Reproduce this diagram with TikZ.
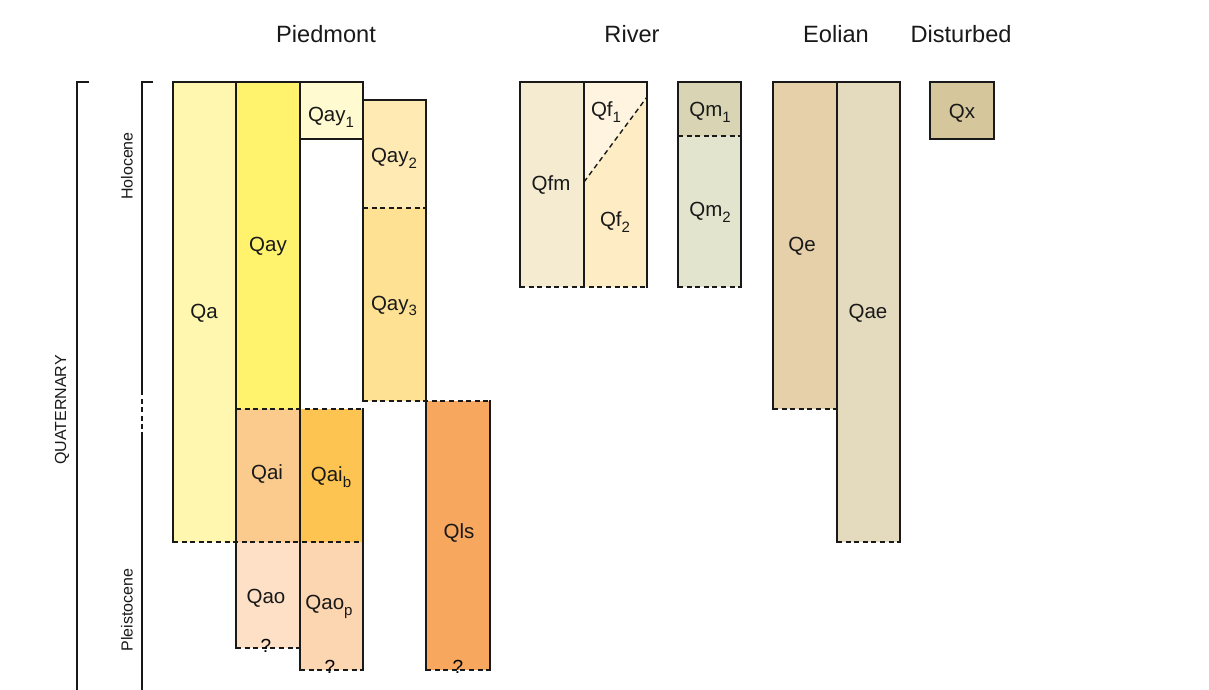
\documentclass[tikz,border=0pt]{standalone}
\usepackage{fontspec}
\setmainfont{Liberation Sans}
% subscript for unit symbols
\newcommand{\usub}[1]{\raisebox{-0.28em}{\fontsize{15}{17}\selectfont #1}}
\begin{document}
\begin{tikzpicture}[x=1pt,y=-1pt,
  edge/.style={line width=1.4pt,draw=black!90,line cap=rect},
  contact/.style={line width=1.4pt,draw=black!90,dash pattern=on 5pt off 3.6pt},
  unit/.style={font=\fontsize{20.5}{24}\selectfont,inner sep=0pt,text=black!90},
  head/.style={font=\fontsize{23.6}{27}\selectfont,inner sep=0pt,text=black!90},
  era/.style={font=\fontsize{16}{19}\selectfont,inner sep=0pt,rotate=90,text=black!90},
  qmark/.style={font=\fontsize{19}{22}\selectfont,inner sep=0pt,fill=none}]
\useasboundingbox (0,0) rectangle (1209,690);

% unit colours
\definecolor{cQa}{HTML}{FFF6B0}
\definecolor{cQay}{HTML}{FFF36E}
\definecolor{cQayA}{HTML}{FFFACF}
\definecolor{cQayB}{HTML}{FFEAB4}
\definecolor{cQayC}{HTML}{FFE194}
\definecolor{cQai}{HTML}{FBCB8E}
\definecolor{cQaib}{HTML}{FEC451}
\definecolor{cQao}{HTML}{FDE0C5}
\definecolor{cQaop}{HTML}{FCD5B1}
\definecolor{cQls}{HTML}{F7A75E}
\definecolor{cQfm}{HTML}{F5EBD0}
\definecolor{cQfA}{HTML}{FEF4E0}
\definecolor{cQfB}{HTML}{FDECC4}
\definecolor{cQmA}{HTML}{D9D5B4}
\definecolor{cQmB}{HTML}{E3E4CE}
\definecolor{cQe}{HTML}{E6D0A9}
\definecolor{cQae}{HTML}{E4DBBF}
\definecolor{cQx}{HTML}{D5C69C}

% ---------- fills ----------
% Piedmont
\fill[cQa]   (173,82)  rectangle (236,542);
\fill[cQay]  (236,82)  rectangle (300,409);
\fill[cQayA] (300,82)  rectangle (363,139);
\fill[cQayB] (363,100) rectangle (426,208);
\fill[cQayC] (363,208) rectangle (426,401);
\fill[cQai]  (236,409) rectangle (300,542);
\fill[cQaib] (300,409) rectangle (363,542);
\fill[cQao]  (236,542) rectangle (300,648);
\fill[cQaop] (300,542) rectangle (363,670);
\fill[cQls]  (426,401) rectangle (490,670);
% River
\fill[cQfm]  (520,82)  rectangle (584,287);
\fill[cQfA]  (584,82) -- (647,82) -- (647,97) -- (584,182) -- cycle;
\fill[cQfB]  (584,182) -- (647,97) -- (647,287) -- (584,287) -- cycle;
\fill[cQmA]  (678,82)  rectangle (741,136);
\fill[cQmB]  (678,136) rectangle (741,287);
% Eolian
\fill[cQe]   (773,82)  rectangle (837,409);
\fill[cQae]  (837,82)  rectangle (900,542);
% Disturbed
\fill[cQx]   (930,82)  rectangle (994,139);

% ---------- solid boundaries ----------
\draw[edge] (173,542) -- (173,82) -- (363,82) -- (363,139) -- (300,139);
\draw[edge] (236,82) -- (236,648);
\draw[edge] (300,82) -- (300,409);
\draw[edge] (300,409) -- (300,670);
\draw[edge] (363,401) -- (363,100) -- (426,100) -- (426,670);
\draw[edge] (363,409) -- (363,670);
\draw[edge] (490,401) -- (490,670);

\draw[edge] (520,287) -- (520,82) -- (647,82) -- (647,287);
\draw[edge] (584,82) -- (584,287);
\draw[edge] (678,287) -- (678,82) -- (741,82) -- (741,287);

\draw[edge] (773,409) -- (773,82) -- (900,82) -- (900,542);
\draw[edge] (837,82) -- (837,542);

\draw[edge] (930,82) rectangle (994,139);

% ---------- gradational / uncertain contacts ----------
\draw[contact] (173,542) -- (363,542);
\draw[contact] (236,409) -- (363,409);
\draw[contact] (363,208) -- (426,208);
\draw[contact] (363,401) -- (490,401);
\draw[contact] (236,648) -- (300,648);
\draw[contact] (300,670) -- (363,670);
\draw[contact] (426,670) -- (490,670);
\draw[contact] (520,287) -- (647,287);
\draw[contact] (584,182) -- (647,97);
\draw[contact] (678,136) -- (741,136);
\draw[contact] (678,287) -- (741,287);
\draw[contact] (773,409) -- (837,409);
\draw[contact] (837,542) -- (900,542);

% unknown lower limits
\node[qmark] (q1) at (266,646) {?};
\node[qmark] (q2) at (330,667) {?};
\node[qmark] (q3) at (458,667) {?};

% ---------- time scale brackets ----------
\draw[edge,line cap=butt] (89,82) -- (77,82) -- (77,690);
\draw[edge,line cap=butt] (153,82) -- (142,82) -- (142,390);
\draw[contact] (142,390) -- (142,432);
\draw[edge,line cap=butt] (142,432) -- (142,690);
\node[era] (quat) at (62,410) {QUATERNARY};
\node[era] (holo) at (127,166) {Holocene};
\node[era] (plei) at (127,610) {Pleistocene};

% ---------- group headings ----------
\node[head] (piedmont)  at (326,34) {Piedmont};
\node[head] (river)     at (632,34) {River};
\node[head] (eolian)    at (836,34) {Eolian};
\node[head] (disturbed) at (961,34) {Disturbed};

% ---------- unit labels ----------
\node[unit] (Qa)   at (204,313) {Qa};
\node[unit] (Qay)  at (268,246) {Qay};
\node[unit] (Qay1) at (331,117) {Qay\usub{1}};
\node[unit] (Qay2) at (394,158) {Qay\usub{2}};
\node[unit] (Qay3) at (394,306) {Qay\usub{3}};
\node[unit] (Qai)  at (267,474) {Qai};
\node[unit] (Qaib) at (331,477) {Qai\usub{b}};
\node[unit] (Qao)  at (266,598) {Qao};
\node[unit] (Qaop) at (329,607) {Qao\usub{p}};
\node[unit] (Qls)  at (459,533) {Qls};
\node[unit] (Qfm)  at (551,185) {Qfm};
\node[unit] (Qf1)  at (606,112) {Qf\usub{1}};
\node[unit] (Qf2)  at (615,222) {Qf\usub{2}};
\node[unit] (Qm1)  at (710,112) {Qm\usub{1}};
\node[unit] (Qm2)  at (710,212) {Qm\usub{2}};
\node[unit] (Qe)   at (802,246) {Qe};
\node[unit] (Qae)  at (868,313) {Qae};
\node[unit] (Qx)   at (962,113) {Qx};
\end{tikzpicture}
\end{document}
